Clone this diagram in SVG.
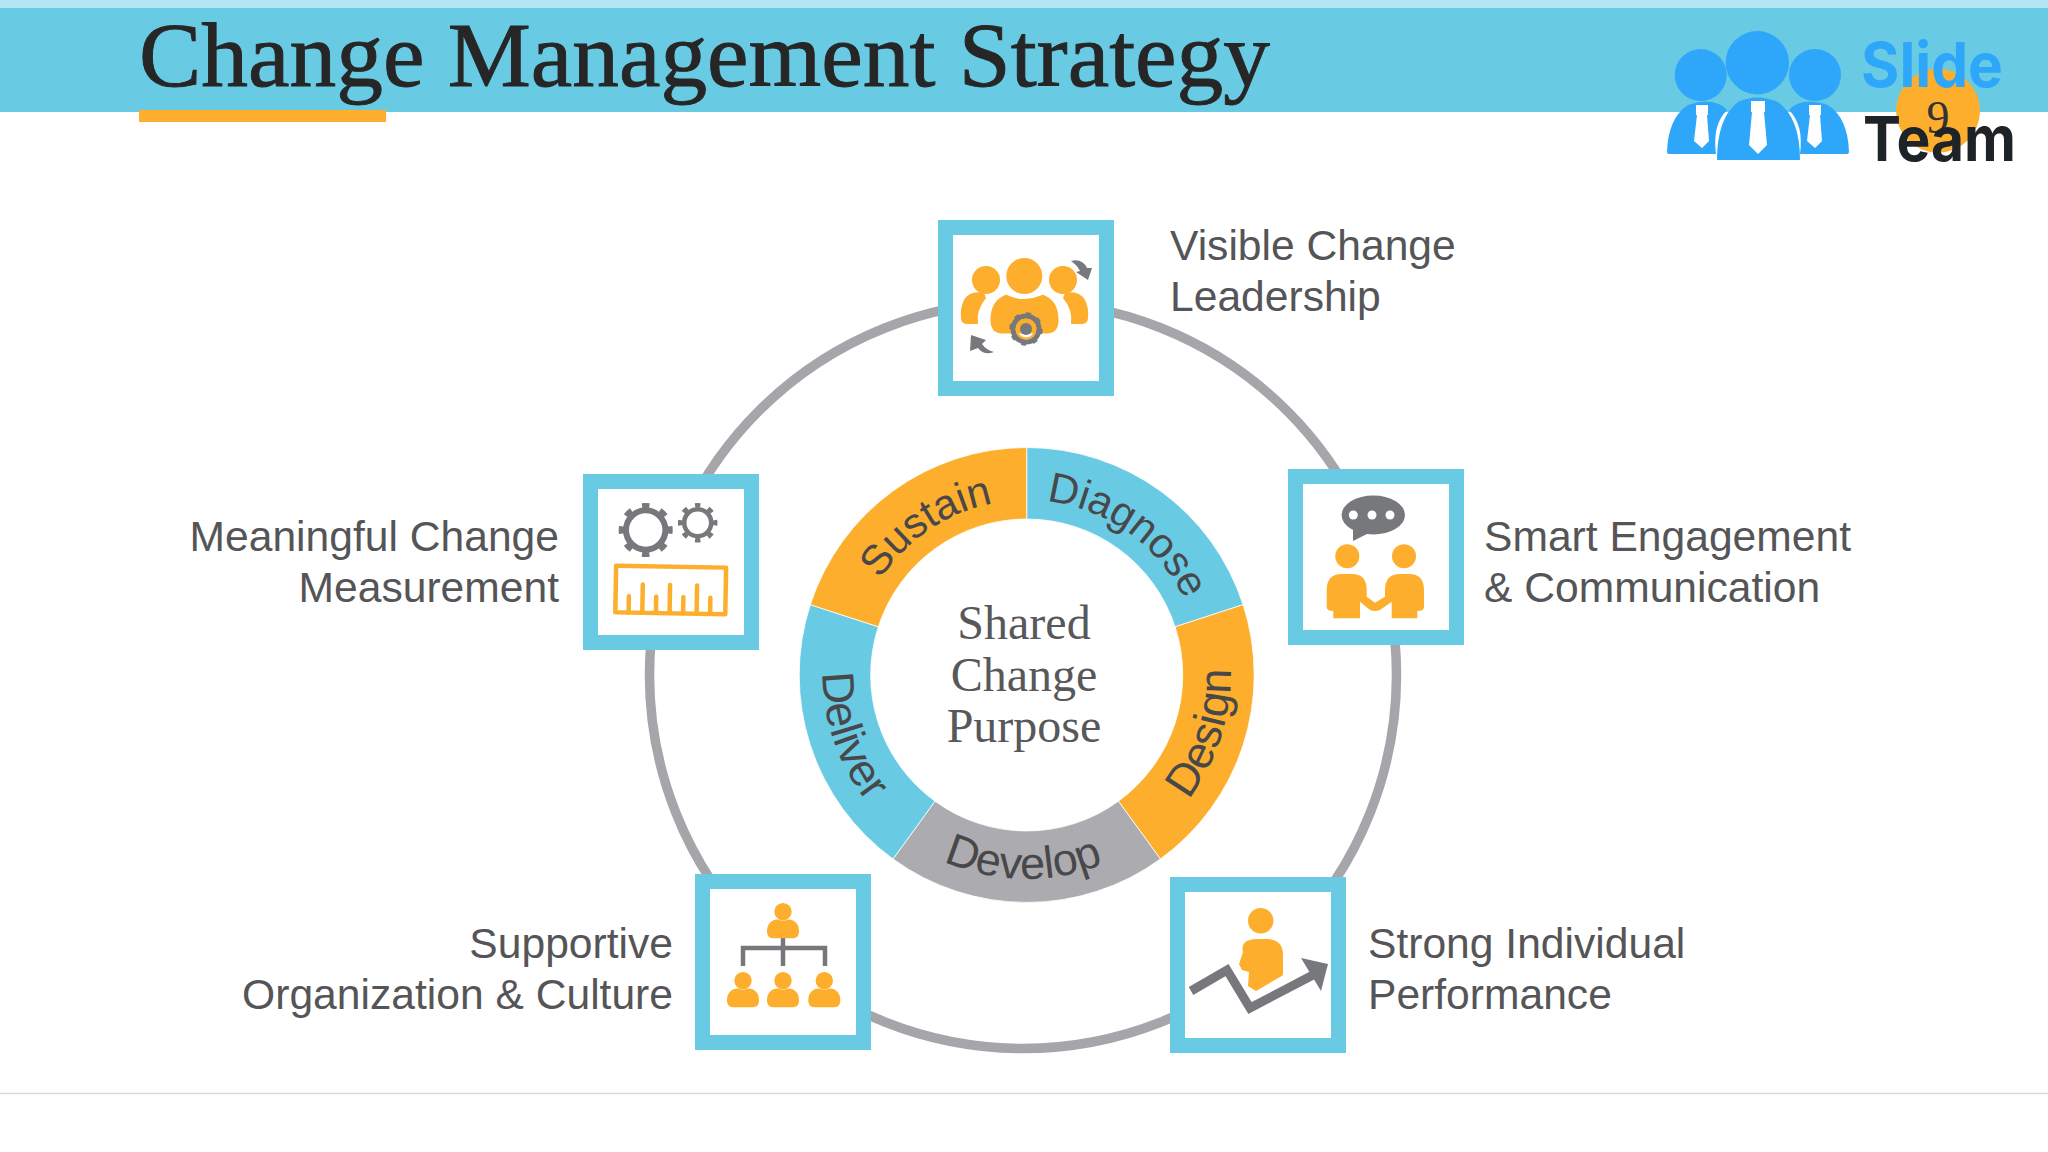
<svg xmlns="http://www.w3.org/2000/svg" width="2048" height="1152" viewBox="0 0 2048 1152">
<style>
.box{fill:#fff;stroke:#69cae4;stroke-width:15}
.o{fill:#fcae2c}
.g{fill:#77787b}
.lab{font-family:"Liberation Sans",Arial,sans-serif;font-size:42.6px;fill:#555557}
.seg{font-family:"Liberation Sans",Arial,sans-serif;font-size:42px;fill:#48484a;text-anchor:middle}
.seg2{font-size:45px}
.mid{font-family:"Liberation Serif","Times New Roman",serif;font-size:48px;fill:#58585a;text-anchor:middle}
.blue{fill:#2ea7fb}
.tie{fill:#fff}
</style>
<defs>
<path id="cw" d="M851.7 675A175 175 0 0 1 1201.7 675"/>
<path id="ccw" d="M822.700 675A204 204 0 0 0 1230.700 675"/>
<g id="p"><circle cx="0" cy="0" r="8.7"/><path d="M-16 20Q-16 13-12 10Q-8 7-4 8Q0 10 4 8Q8 7 12 10Q16 13 16 20Q16 26 10 26.500L-10 26.500Q-16 26-16 20Z"/></g>
</defs>
<rect width="2048" height="1152" fill="#fff"/>
<g id="header">
<rect y="0" width="2048" height="8" fill="#b3e5f3"/>
<rect y="8" width="2048" height="104" fill="#69cae4"/>
<rect x="139" y="110" width="247" height="12" fill="#fcae2c"/>
<text x="139" y="86" font-family="'Liberation Serif','Times New Roman',serif" font-size="92" fill="#262626" stroke="#262626" stroke-width="0.9" textLength="1131" lengthAdjust="spacingAndGlyphs">Change Management Strategy</text>
</g>
<g id="logo">
<circle cx="1938" cy="110.7" r="42" fill="#fcae2c"/>
<text x="1938" y="133" font-family="'Liberation Serif',serif" font-size="46" fill="#333" text-anchor="middle">9</text>
<circle class="blue" cx="1700.7" cy="75" r="26"/><circle class="blue" cx="1815" cy="75" r="26"/><circle class="blue" cx="1757.3" cy="62.7" r="31.7"/>
<path class="blue" d="M1667 152Q1668 118 1688 105Q1700 100 1712 102Q1722 104 1727 110Q1712 125 1716 154L1669 154Q1667 154 1667 152Z"/>
<path class="blue" d="M1849 152Q1848 118 1828 105Q1816 100 1804 102Q1794 104 1789 110Q1804 125 1800 154L1847 154Q1849 154 1849 152Z"/>
<path class="blue" d="M1717 160Q1717 118 1738 102Q1757 93 1778 102Q1800 118 1800 160L1717 160Z"/>
<path class="tie" d="M1696 105H1708V115H1707L1709 141L1702 148L1694 141L1697 115H1696Z"/>
<path class="tie" d="M1751 101H1765V112H1764L1767 145L1758 154L1749 145L1752 112H1751Z"/>
<path class="tie" d="M1809 105H1821V115H1820L1822 141L1815 148L1807 141L1810 115H1809Z"/>
<text x="1861" y="87" font-family="'Inter','Open Sans','Liberation Sans',sans-serif" font-weight="700" font-size="62" class="blue" textLength="142" lengthAdjust="spacingAndGlyphs">Slide</text>
<text x="1863" y="161" font-family="'Inter','Open Sans','Liberation Sans',sans-serif" font-weight="700" font-size="62" fill="#1e2328" textLength="153" lengthAdjust="spacingAndGlyphs">Team</text>
</g>
<g id="connectors">
<circle cx="1023" cy="675" r="373.5" fill="none" stroke="#a7a5a9" stroke-width="9.5"/>
</g>
<g id="ring" stroke="#fff" stroke-width="0.8">
<path id="seg-diagnose" fill="#69cae4" d="M1026.7 447.500A227.500 227.500 0 0 1 1243.100 604.700L1175.100 626.800A156 156 0 0 0 1026.700 519Z"/>
<path id="seg-design" fill="#fcae2c" d="M1243.100 604.700A227.500 227.500 0 0 1 1160.400 859L1118.400 801.200A156 156 0 0 0 1175.100 626.800Z"/>
<path id="seg-develop" fill="#acabaf" d="M1160.400 859A227.500 227.500 0 0 1 893 859L935 801.200A156 156 0 0 0 1118.400 801.200Z"/>
<path id="seg-deliver" fill="#69cae4" d="M893 859A227.500 227.500 0 0 1 810.300 604.700L878.300 626.800A156 156 0 0 0 935 801.200Z"/>
<path id="seg-sustain" fill="#fcae2c" d="M810.300 604.700A227.500 227.500 0 0 1 1026.700 447.500L1026.700 519A156 156 0 0 0 878.300 626.800Z"/>
</g>
<g id="ring-labels">
<g transform="rotate(35.500 1026.700 675)"><text class="seg"><textPath href="#cw" startOffset="50%">Diagnose</textPath></text></g>
<g transform="rotate(-34 1026.700 675)"><text class="seg"><textPath href="#cw" startOffset="50%">Sustain</textPath></text></g>
<g transform="rotate(-72 1026.700 675)"><text class="seg seg2"><textPath href="#ccw" startOffset="50%">Design</textPath></text></g>
<g transform="rotate(1 1026.700 675)"><text class="seg seg2"><textPath href="#ccw" startOffset="50%">Develop</textPath></text></g>
<g transform="rotate(71 1026.700 675)"><text class="seg seg2"><textPath href="#ccw" startOffset="50%">Deliver</textPath></text></g>
</g>
<g id="center-label">
<text class="mid" x="1024" y="639">Shared</text>
<text class="mid" x="1024" y="691">Change</text>
<text class="mid" x="1024" y="742">Purpose</text>
</g>
<g id="node-leadership">
<rect class="box" x="945.5" y="227.5" width="161" height="161"/>
<circle class="o" cx="986" cy="280" r="14"/><circle class="o" cx="1063" cy="280" r="14"/>
<path class="o" d="M984 293Q970 290 964 300Q960 308 961 318Q961 324 968 324L978 324Q976 310 986 298Z"/>
<path class="o" d="M1065 293Q1079 290 1085 300Q1089 308 1088 318Q1088 324 1081 324L1071 324Q1073 310 1063 298Z"/>
<circle class="o" cx="1024.300" cy="276" r="20.500" stroke="#fff" stroke-width="5"/>
<path class="o" stroke="#fff" stroke-width="3" d="M989 320Q989 299 1006 293Q1024 302 1043 293Q1060 299 1060 320Q1060 334 1048 335L1001 335Q989 334 989 320Z"/>
<circle cx="1026" cy="329" r="13" fill="none" stroke="#77787b" stroke-width="5"/>
<circle cx="1026" cy="329" r="15" fill="none" stroke="#77787b" stroke-width="3.5" pathLength="80" stroke-dasharray="4 6"/>
<circle cx="1026" cy="329" r="9.5" fill="none" stroke="#fcae2c" stroke-width="2"/>
<circle class="g" cx="1026" cy="329" r="6"/>
<path class="g" d="M1071 261Q1082 258 1087 268L1092 268L1091 268L1092 268L1088 280L1076 272L1080 271Q1077 265 1071 261Z"/>
<path class="g" d="M970 351L971 335L986 340L982 344Q986 350 994 352Q984 356 978 348Z"/>
</g>
<g id="node-engagement">
<rect class="box" x="1295.5" y="476.5" width="161" height="161"/>
<ellipse class="g" cx="1373.3" cy="515" rx="31.7" ry="19.5"/>
<path class="g" d="M1353 525L1353 541L1369 533Z"/>
<circle cx="1353.3" cy="515" r="4.5" fill="#fff"/><circle cx="1372" cy="515" r="4.5" fill="#fff"/><circle cx="1390" cy="515" r="4.5" fill="#fff"/>
<circle class="o" cx="1347.3" cy="556.3" r="12"/><circle class="o" cx="1404" cy="556.3" r="12"/>
<path class="o" d="M1326.700 590Q1326.700 574 1342 574H1352Q1366.700 574 1366.700 590V596.700L1375 602.700L1385 596.700V590Q1385 574 1400 574H1409Q1424 574 1424 590V607Q1424 611 1417.300 611V618.300H1391.700V601.700L1380 610Q1375 612 1370 610L1360 601.700V618.300H1333.300V611Q1326.700 611 1326.700 607Z"/>
</g>
<g id="node-performance">
<rect class="box" x="1177.500" y="884.500" width="161" height="161"/>
<circle class="o" cx="1260.700" cy="920.700" r="12.700"/>
<path class="o" d="M1243 952Q1240 940 1256 939H1268Q1283 940 1283 955V974Q1283 976 1280 977L1256 991L1248 986L1249 972L1242 970L1239 964Z"/>
<path fill="none" stroke="#77787b" stroke-width="9" d="M1191 991L1227 970L1250 1008L1313 975"/>
<polygon class="g" points="1301,958 1328,964 1321,991"/>
</g>
<g id="node-culture">
<rect class="box" x="702.500" y="881.500" width="161" height="161"/>
<path fill="none" stroke="#77787b" stroke-width="4.500" d="M783 938V966M743 966V948H825V966"/>
<g class="o"><use href="#p" transform="translate(783 911.700)"/><use href="#p" transform="translate(743 980.700)"/><use href="#p" transform="translate(783 980.700)"/><use href="#p" transform="translate(824.300 980.700)"/></g>
</g>
<g id="node-measurement">
<rect class="box" x="590.500" y="481.500" width="161" height="161"/>
<circle cx="645.700" cy="530" r="19.700" fill="none" stroke="#77787b" stroke-width="6"/>
<circle cx="645.700" cy="530" r="24" fill="none" stroke="#77787b" stroke-width="6" pathLength="80" stroke-dasharray="4 6" stroke-dashoffset="2"/>
<circle cx="697.700" cy="522.700" r="13.500" fill="none" stroke="#77787b" stroke-width="4.500"/>
<circle cx="697.700" cy="522.700" r="17.500" fill="none" stroke="#77787b" stroke-width="4.500" pathLength="80" stroke-dasharray="4 6" stroke-dashoffset="2"/>
<g transform="rotate(1 670.700 590)" fill="none" stroke="#fcae2c" stroke-width="4.500" stroke-linecap="round" stroke-linejoin="round">
<rect x="615.700" y="566.700" width="110" height="46.600"/>
<path d="M629 613V597M642.700 613V585M656.300 613V597M670 613V585M683.500 613V597M697 613V585M710.500 613V597"/>
</g>
</g>
<g id="labels">
<text class="lab" x="1170" y="260">Visible Change</text>
<text class="lab" x="1170" y="311">Leadership</text>
<text class="lab" x="1484" y="551">Smart Engagement</text>
<text class="lab" x="1484" y="602">&amp; Communication</text>
<text class="lab" x="1368" y="958">Strong Individual</text>
<text class="lab" x="1368" y="1009">Performance</text>
<text class="lab" x="673" y="958" text-anchor="end">Supportive</text>
<text class="lab" x="673" y="1009" text-anchor="end">Organization &amp; Culture</text>
<text class="lab" x="559" y="551" text-anchor="end">Meaningful Change</text>
<text class="lab" x="559" y="602" text-anchor="end">Measurement</text>
</g>
<line x1="0" y1="1093.500" x2="2048" y2="1093.500" stroke="#d9d9d9" stroke-width="1.500"/>
</svg>
